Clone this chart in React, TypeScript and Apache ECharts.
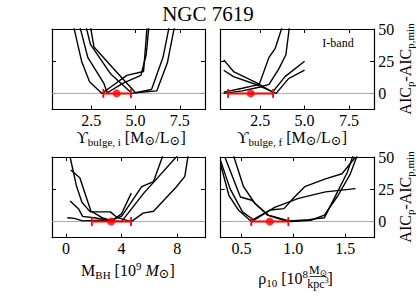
import React, { useEffect, useRef } from 'react';
import * as echarts from 'echarts';

const SERIF = '"Liberation Serif", "DejaVu Serif", serif';

// tick values
const yTicks = [0, 25, 50];
const upsTicks = [2.5, 5.0, 7.5];
const mbhTicks = [0, 4, 8];
const rhoTicks = [0.5, 1.0, 1.5];

// Upsilon bulge, i  (x, dAIC)
const ui1 = [[1.5, 52], [1.95, 25], [2.4, 9], [3.1, 0], [3.6, 5], [4.5, 14], [5.45, 17], [5.65, 52]];
const ui2 = [[1.85, 52], [2.3, 28], [3.2, 8], [3.4, 0.5], [4.3, 8], [5.3, 14], [5.6, 30], [5.75, 52]];
const ui3 = [[2.2, 52], [2.45, 38], [3.6, 15], [4.8, 0], [5.9, 3], [6.55, 28], [6.9, 52]];
const ui4 = [[2.45, 52], [2.65, 36], [3.9, 17], [5.0, 0.5], [6.2, 2], [6.8, 24], [7.2, 52]];
const errUi = [3.18, 3.93, 4.74];

// Upsilon bulge, f
const uf1 = [[0.45, 26], [1.0, 17], [2.4, 7.5], [3.2, 1], [3.9, 13], [5.0, 25]];
const uf2 = [[0.45, 18], [1.0, 13], [2.35, 6.5], [3.4, 0], [4.1, 11.5], [5.0, 18]];
const uf3 = [[0.45, 1], [1.5, 4], [2.45, 7], [3.0, 28], [3.35, 35], [3.75, 52]];
const uf4 = [[0.45, 0], [1.5, 2], [2.5, 5], [3.0, 7], [3.55, 19], [3.95, 30], [4.15, 52]];
const errUf = [0.69, 1.97, 3.23];

// M_BH
const mb1 = [[0.3, 50], [0.75, 28], [1.15, 15], [1.75, 7.5], [3.2, 7.5], [3.7, 3], [4.7, 0], [5.55, 6.5], [6.3, 8], [7.95, 27], [8.55, 35], [8.8, 52]];
const mb2 = [[0.35, 40], [1.0, 34], [1.8, 8], [2.6, 3], [3.3, 0.5], [4.0, 6], [4.7, 22]];
const mb3 = [[0.3, 16], [0.9, 10], [1.2, 4], [2.0, 3], [3.2, 1], [4.0, 4], [5.45, 27], [6.3, 31], [7.0, 52]];
const mb4 = [[0.1, 3], [0.6, 2.5], [1.2, 0.5], [2.5, 1], [4.0, 0], [5.6, 22], [8.1, 52]];
const errMb = [1.86, 3.25, 4.68];

// rho_10
const rh1 = [[0.3, 47], [0.39, 25.5], [0.51, 7.5], [0.62, 1], [0.82, 11], [1.05, 18], [1.31, 23], [1.6, 25.5]];
const rh2 = [[0.3, 44], [0.38, 20], [0.47, 9], [0.59, 0.5], [0.78, 9], [0.91, 10], [1.0, 18], [1.11, 27], [1.31, 33], [1.47, 37], [1.6, 50]];
const rh3 = [[0.34, 50], [0.49, 19], [0.6, 16.5], [0.75, 5], [0.91, 1], [0.98, 0], [1.17, 1], [1.3, 5], [1.43, 20], [1.55, 37], [1.62, 52]];
const rh4 = [[0.42, 52], [0.52, 27], [0.63, 14], [0.76, 5], [0.96, 0.5], [1.15, 1.5], [1.3, 3], [1.42, 22], [1.52, 38], [1.58, 52]];
const errRh = [0.595, 0.773, 0.952];

const Y_MIN = -12.5;
const Y_MAX = 50;

const rich = {
  m: { fontFamily: SERIF, fontSize: 16, lineHeight: 20, color: '#000' },
  mi: { fontFamily: SERIF, fontSize: 16, lineHeight: 20, fontStyle: 'italic', color: '#000' },
  s: { fontFamily: SERIF, fontSize: 11, lineHeight: 13, verticalAlign: 'bottom', color: '#000' },
  o: { fontFamily: SERIF, fontSize: 13, lineHeight: 14, verticalAlign: 'bottom', color: '#000' },
  u: { fontFamily: SERIF, fontSize: 11, lineHeight: 12, verticalAlign: 'top', color: '#000' },
  fm: { fontFamily: SERIF, fontSize: 12, lineHeight: 14, color: '#000' },
  fs: { fontFamily: SERIF, fontSize: 9, lineHeight: 10, verticalAlign: 'bottom', color: '#000' },
  fu: { fontFamily: SERIF, fontSize: 8, lineHeight: 9, verticalAlign: 'top', color: '#000' },
};

function buildOption() {
  const panels = [
    { rect: [52, 29, 153, 80.5], xr: [0.28, 8.92], xt: upsTicks, fmt: (v: number) => v.toFixed(1), curves: [ui1, ui2, ui3, ui4], err: errUi, yl: false },
    { rect: [220.7, 29, 153.5, 80.5], xr: [0.28, 8.92], xt: upsTicks, fmt: (v: number) => v.toFixed(1), curves: [uf1, uf2, uf3, uf4], err: errUf, yl: true },
    { rect: [52, 157, 153, 80.7], xr: [-1, 10], xt: mbhTicks, fmt: (v: number) => String(Math.round(v)), curves: [mb1, mb2, mb3, mb4], err: errMb, yl: false },
    { rect: [220.7, 157, 153.5, 80.7], xr: [0.3, 1.78], xt: rhoTicks, fmt: (v: number) => v.toFixed(1), curves: [rh1, rh2, rh3, rh4], err: errRh, yl: true },
  ];
  const grid: any[] = [];
  const xAxis: any[] = [];
  const yAxis: any[] = [];
  const series: any[] = [];
  const axisLine = { show: true, onZero: false, lineStyle: { color: '#000', width: 1.2 } };
  const labelStyle = { fontFamily: SERIF, fontSize: 16, color: '#000' };
  panels.forEach((p, g) => {
    grid.push({ left: p.rect[0], top: p.rect[1], width: p.rect[2], height: p.rect[3], containLabel: false });
    const xBase = {
      gridIndex: g, type: 'value', min: p.xr[0], max: p.xr[1],
      axisLine, splitLine: { show: false },
      axisTick: { show: true, inside: true, length: 4, customValues: p.xt, lineStyle: { color: '#000', width: 1 } },
    };
    xAxis.push({ ...xBase, position: 'bottom', axisLabel: { show: true, customValues: p.xt, formatter: p.fmt, margin: 3, ...labelStyle } });
    xAxis.push({ ...xBase, position: 'top', axisLabel: { show: false } });
    const yBase = {
      gridIndex: g, type: 'value', min: Y_MIN, max: Y_MAX,
      axisLine, splitLine: { show: false },
      axisTick: { show: true, inside: true, length: 4, customValues: yTicks, lineStyle: { color: '#000', width: 1 } },
    };
    yAxis.push({ ...yBase, position: 'left', axisLabel: { show: false } });
    yAxis.push({ ...yBase, position: 'right', axisLabel: { show: p.yl, customValues: yTicks, margin: 4, formatter: (v: number) => String(v), ...labelStyle } });

    const xi = 2 * g;
    const yi = 2 * g;
    series.push({
      type: 'line', xAxisIndex: xi, yAxisIndex: yi, data: [[p.xr[0], 0], [p.xr[1], 0]],
      showSymbol: false, symbol: 'none', lineStyle: { color: '#a8a8a8', width: 1 }, z: 1, silent: true,
    });
    p.curves.forEach((c) => {
      series.push({
        type: 'line', xAxisIndex: xi, yAxisIndex: yi, data: c,
        showSymbol: false, symbol: 'none', clip: true,
        lineStyle: { color: '#000', width: 1.4 }, z: 2, silent: true,
      });
    });
    series.push({
      type: 'line', xAxisIndex: xi, yAxisIndex: yi, data: [[p.err[0], 0], [p.err[2], 0]],
      showSymbol: true, symbol: 'rect', symbolSize: [1.8, 9],
      itemStyle: { color: '#ff0000' }, lineStyle: { color: '#ff0000', width: 2 }, z: 4, silent: true, clip: false,
    });
    series.push({
      type: 'scatter', xAxisIndex: xi, yAxisIndex: yi, data: [[p.err[1], 0]],
      symbol: 'circle', symbolSize: 8, itemStyle: { color: '#ff0000' }, z: 5, silent: true,
    });
  });

  const graphic: any[] = [
    { type: 'text', x: 208, y: 14, style: { text: 'NGC 7619', font: `21px ${SERIF}`, fill: '#000', textAlign: 'center', textVerticalAlign: 'middle' } },
    { type: 'text', x: 338, y: 43, style: { text: 'I-band', font: `12px ${SERIF}`, fill: '#000', textAlign: 'center', textVerticalAlign: 'middle' } },
    { type: 'text', x: 131, y: 137, style: { text: '{m|ϒ}{s|bulge, i}{m| [M}{o|⊙}{m|/L}{o|⊙}{m|]}', rich, textAlign: 'center', textVerticalAlign: 'middle' } },
    { type: 'text', x: 292, y: 137, style: { text: '{m|ϒ}{s|bulge, f}{m| [M}{o|⊙}{m|/L}{o|⊙}{m|]}', rich, textAlign: 'center', textVerticalAlign: 'middle' } },
    { type: 'text', x: 128, y: 270, style: { text: '{m|M}{s|BH}{m| [10}{u|9}{m| }{mi|M}{o|⊙}{m|]}', rich, textAlign: 'center', textVerticalAlign: 'middle' } },
    { type: 'text', x: 308, y: 278, style: { text: '{m|ρ}{s|10}{m| [10}{u|8}', rich, textAlign: 'right', textVerticalAlign: 'middle' } },
    { type: 'text', x: 318, y: 270, style: { text: '{fm|M}{fs|⊙}', rich, textAlign: 'center', textVerticalAlign: 'middle' } },
    { type: 'line', shape: { x1: 309.5, y1: 276.5, x2: 326.5, y2: 276.5 }, style: { stroke: '#000', lineWidth: 0.8 } },
    { type: 'text', x: 318, y: 283.5, style: { text: '{fm|kpc}{fu|3}', rich, textAlign: 'center', textVerticalAlign: 'middle' } },
    { type: 'text', x: 327.5, y: 278, style: { text: '{m|]}', rich, textAlign: 'left', textVerticalAlign: 'middle' } },
    { type: 'text', x: 405, y: 69, rotation: Math.PI / 2, style: { text: '{m|AIC}{s|p}{m|-AIC}{s|p,min}', rich, textAlign: 'center', textVerticalAlign: 'middle' } },
    { type: 'text', x: 405, y: 197, rotation: Math.PI / 2, style: { text: '{m|AIC}{s|p}{m|-AIC}{s|p,min}', rich, textAlign: 'center', textVerticalAlign: 'middle' } },
  ];

  return { animation: false, backgroundColor: '#fff', grid, xAxis, yAxis, series, graphic };
}

export default function App() {
  const ref = useRef<HTMLDivElement>(null);
  useEffect(() => {
    const chart = echarts.init(ref.current as HTMLDivElement, null, { renderer: 'svg' });
    chart.setOption(buildOption() as any);
    return () => chart.dispose();
  }, []);
  return <div ref={ref} style={{ position: 'fixed', left: 0, top: 0, width: 416, height: 297 }} />;
}
